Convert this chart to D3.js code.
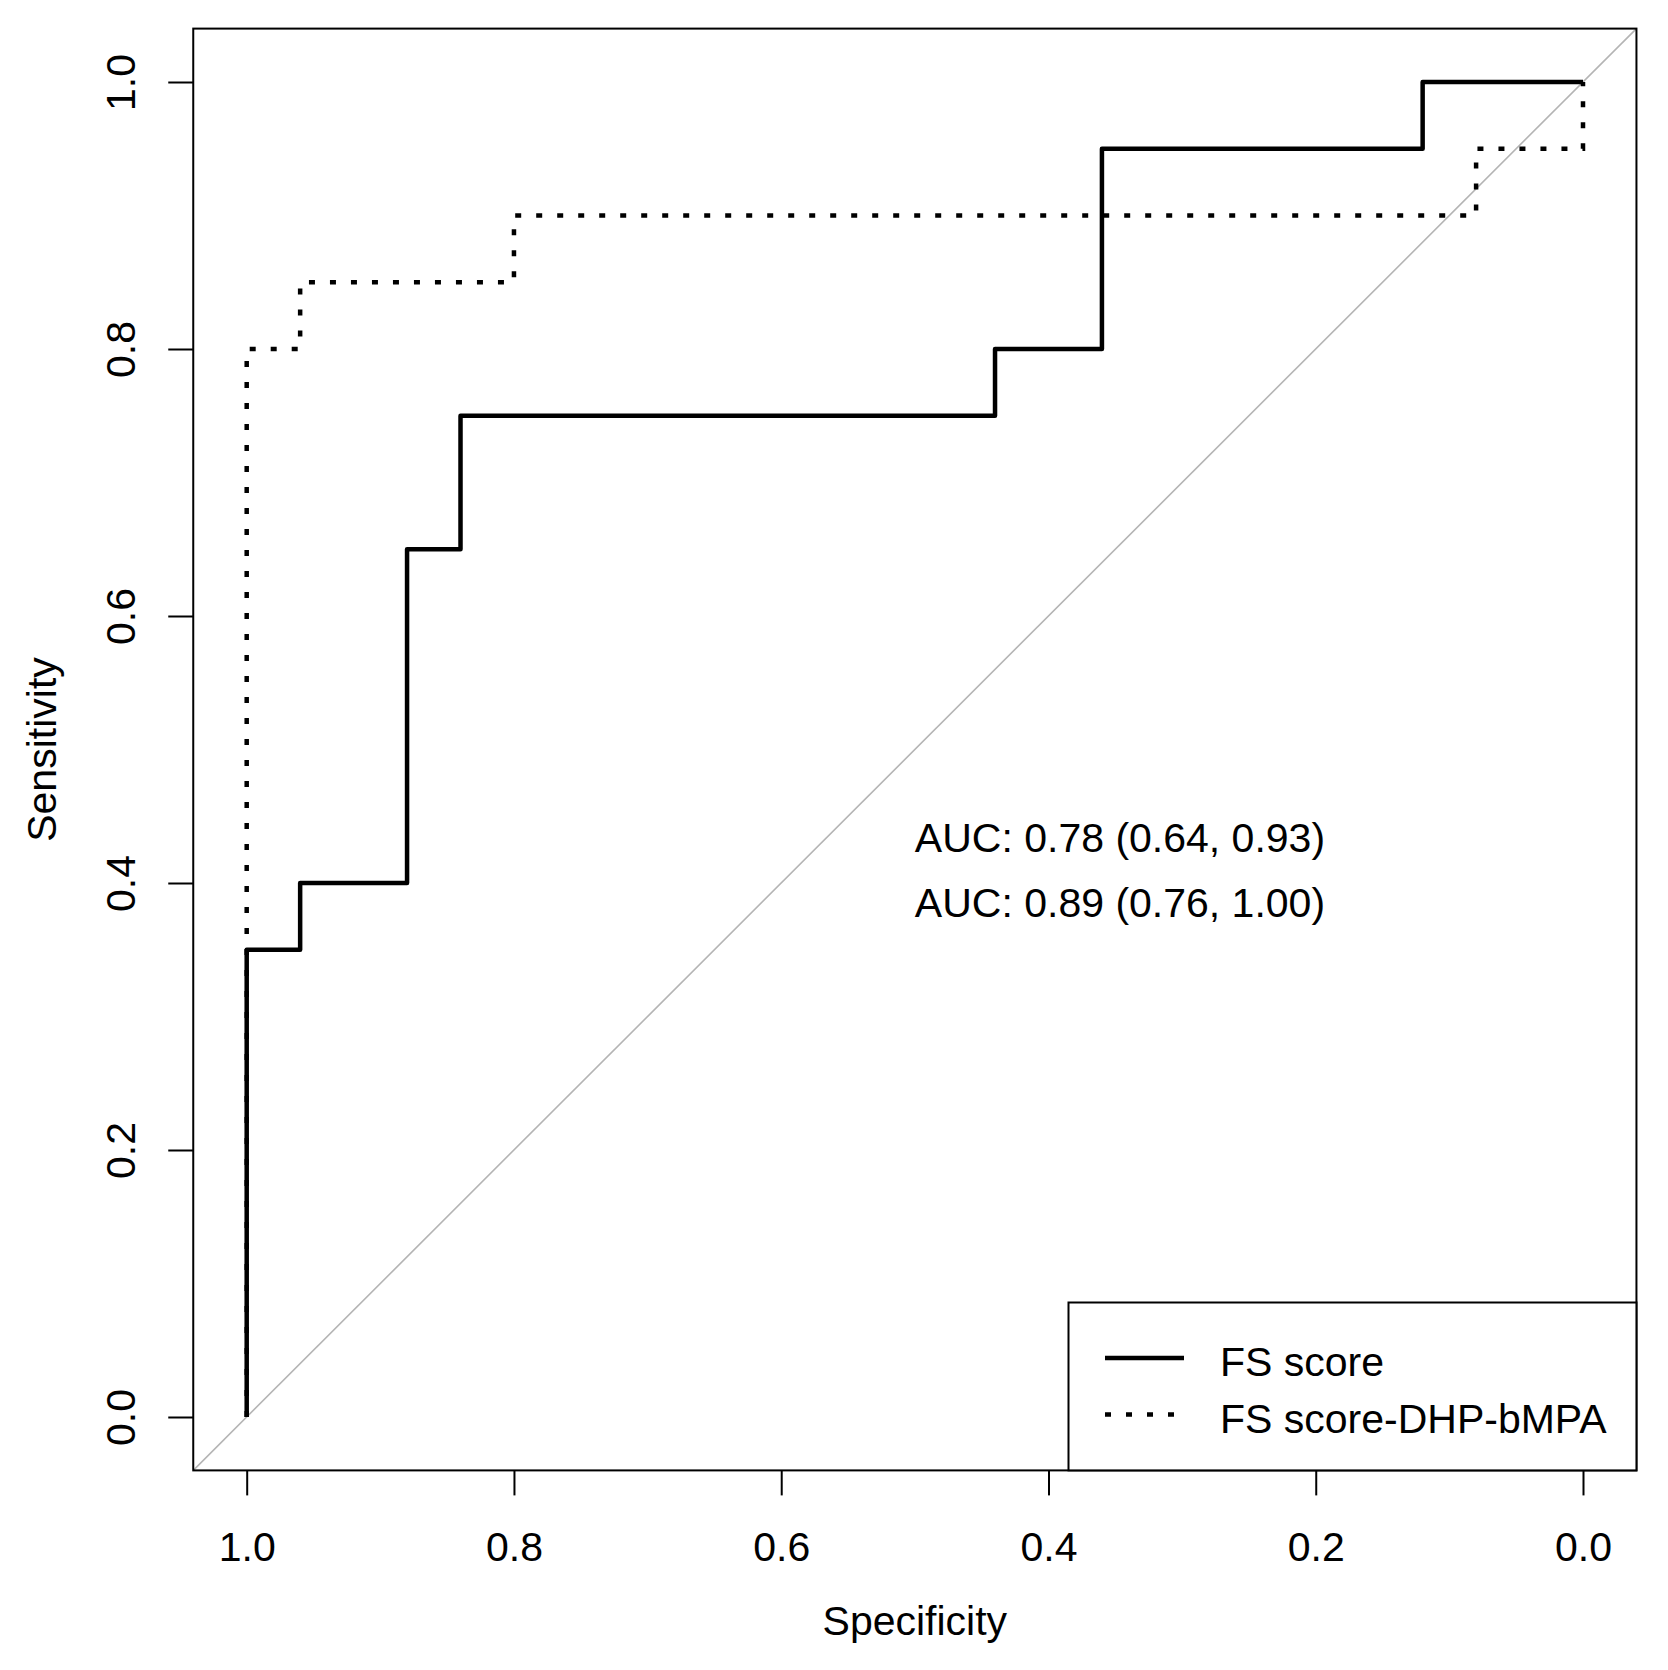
<!DOCTYPE html>
<html lang="en">
<head>
<meta charset="utf-8">
<title>ROC curves</title>
<style>
body{
  margin: 0;
  background: #fff;
}
text{
  font-family: "Liberation Sans", Arial, sans-serif;
  fill: #000;
}
</style>
</head>
<body>
<div id="chart"></div>
<script src="https://d3js.org/d3.v7.min.js"></script>
<script>

// ROC points (specificity, sensitivity)
const fsSpec  = [1, 1, 0.96, 0.96, 0.88, 0.88, 0.84, 0.84, 0.44, 0.44, 0.36, 0.36, 0.12, 0.12, 0];
const fsSens  = [0, 0.35, 0.35, 0.40, 0.40, 0.65, 0.65, 0.75, 0.75, 0.80, 0.80, 0.95, 0.95, 1, 1];
const dhpSpec = [1, 1, 0.96, 0.96, 0.80, 0.80, 0.08, 0.08, 0, 0];
const dhpSens = [0, 0.80, 0.80, 0.85, 0.85, 0.90, 0.90, 0.95, 0.95, 1];

const ticks = [1.0, 0.8, 0.6, 0.4, 0.2, 0.0];
const seriesNames = ['FS score', 'FS score-DHP-bMPA'];
const aucLabels = ['AUC: 0.78 (0.64, 0.93)', 'AUC: 0.89 (0.76, 1.00)'];

const width = 1668;
const height = 1670;
const fontSize = 41;

// R style: plot region extends 4% past the data range
const xS = d3.scaleLinear()
  .domain([1, 0])
  .range([246.7, 1583]);
const yS = d3.scaleLinear()
  .domain([0, 1])
  .range([1417, 82]);

const x0 = xS(1.04), x1 = xS(-0.04);
const y0 = yS(-0.04), y1 = yS(1.04);

var svg = d3.select('#chart')
  .append('svg')
  .attr('width', width)
  .attr('height', height);

svg.append('clipPath')
  .attr('id', 'plotclip')
  .append('rect')
  .attr('x', x0)
  .attr('y', y1)
  .attr('width', x1 - x0)
  .attr('height', y0 - y1);

// diagonal reference
svg.append('line')
  .attr('clip-path', 'url(#plotclip)')
  .attr('x1', xS(1.04)).attr('y1', yS(-0.04))
  .attr('x2', xS(-0.04)).attr('y2', yS(1.04))
  .attr('stroke', '#b4b4b4')
  .attr('stroke-width', 1.6);

const line = d3.line()
  .x(d => xS(d[0]))
  .y(d => yS(d[1]));

svg.append('path')
  .datum(fsSpec.map((s, i) => [s, fsSens[i]]))
  .attr('d', line)
  .attr('fill', 'none')
  .attr('stroke', '#000')
  .attr('stroke-width', 4.5)
  .attr('stroke-linejoin', 'round');

svg.append('path')
  .datum(dhpSpec.map((s, i) => [s, dhpSens[i]]))
  .attr('d', line)
  .attr('fill', 'none')
  .attr('stroke', '#000')
  .attr('stroke-width', 4.5)
  .attr('stroke-dasharray', '6,15');

// box
svg.append('rect')
  .attr('x', x0)
  .attr('y', y1)
  .attr('width', x1 - x0)
  .attr('height', y0 - y1)
  .attr('fill', 'none')
  .attr('stroke', '#000')
  .attr('stroke-width', 2);

// x axis
var xAxis = svg.append('g')
  .attr('transform', 'translate(0,' + y0 + ')')
  .call(d3.axisBottom(xS).tickValues(ticks).tickFormat(d3.format('.1f')).tickSize(25).tickSizeOuter(0));
xAxis.select('.domain').remove();
xAxis.selectAll('line').attr('stroke', '#000').attr('stroke-width', 2);
xAxis.selectAll('text')
  .attr('y', 91)
  .attr('dy', null)
  .style('font-size', fontSize + 'px')
  .style('font-family', '"Liberation Sans", Arial, sans-serif')
  .attr('fill', '#000');

// y axis
var yAxis = svg.append('g')
  .attr('transform', 'translate(' + x0 + ',0)')
  .call(d3.axisLeft(yS).tickValues(ticks).tickFormat(d3.format('.1f')).tickSize(25).tickSizeOuter(0));
yAxis.select('.domain').remove();
yAxis.selectAll('line').attr('stroke', '#000').attr('stroke-width', 2);
yAxis.selectAll('text')
  .attr('x', null)
  .attr('dy', null)
  .attr('text-anchor', 'middle')
  .attr('transform', 'translate(' + (135 - x0) + ',0) rotate(-90)')
  .style('font-size', fontSize + 'px')
  .style('font-family', '"Liberation Sans", Arial, sans-serif')
  .attr('fill', '#000');

// axis titles
svg.append('text')
  .attr('x', (x0 + x1) / 2)
  .attr('y', 1635)
  .attr('text-anchor', 'middle')
  .style('font-size', fontSize + 'px')
  .text('Specificity');

svg.append('text')
  .attr('transform', 'translate(56,' + ((y0 + y1) / 2) + ') rotate(-90)')
  .attr('text-anchor', 'middle')
  .style('font-size', fontSize + 'px')
  .text('Sensitivity');

// AUC labels
svg.selectAll('.auc')
  .data(aucLabels)
  .join('text')
  .attr('class', 'auc')
  .attr('x', xS(0.5))
  .attr('y', (d, i) => 851.7 + i * 65)
  .style('font-size', fontSize + 'px')
  .text(d => d);

// legend
svg.append('rect')
  .attr('x', 1068.5)
  .attr('y', 1302.5)
  .attr('width', x1 - 1068.5)
  .attr('height', y0 - 1302.5)
  .attr('fill', '#fff')
  .attr('stroke', '#000')
  .attr('stroke-width', 2);

const legendDash = [null, '6,15'];
seriesNames.forEach((name, i) => {
  const ly = 1358 + i * 56.5;
  svg.append('line')
    .attr('x1', 1105).attr('x2', 1184)
    .attr('y1', ly).attr('y2', ly)
    .attr('stroke', '#000')
    .attr('stroke-width', 4.5)
    .attr('stroke-dasharray', legendDash[i]);
  svg.append('text')
    .attr('x', 1220)
    .attr('y', ly + 18)
    .style('font-size', fontSize + 'px')
    .text(name);
});

</script>
</body>
</html>
